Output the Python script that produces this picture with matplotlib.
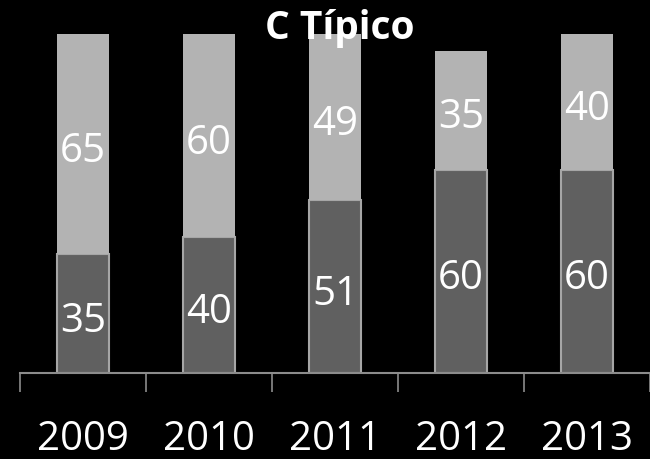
import matplotlib
matplotlib.use("Agg")
import matplotlib.pyplot as plt
import numpy as np

years = ["2009", "2010", "2011", "2012", "2013"]
lower = [35, 40, 51, 60, 60]
upper = [65, 60, 49, 35, 40]

W, H = 650, 460
fig = plt.figure(figsize=(W / 100, H / 100), dpi=100, facecolor="black")
ax = fig.add_axes([20 / W, (H - 374) / H, 630 / W, (374 - 35) / H])
ax.set_facecolor("black")

x = np.arange(len(years))
width = 0.41
dark = "#606060"
light = "#b3b3b3"
edge = "#a6a6a6"

ax.bar(x, lower, width, color=dark, edgecolor=edge, linewidth=1.5, zorder=2)
ax.bar(x, upper, width, bottom=lower, color=light, edgecolor=light, linewidth=0, zorder=2)

font = "Open Sans"
for xi, lo, up in zip(x, lower, upper):
    ax.text(xi, lo / 2 - 2, str(lo), ha="center", va="center", color="white",
            fontsize=29, family=font, zorder=3)
    ax.text(xi, lo + up / 2 - 2, str(up), ha="center", va="center", color="white",
            fontsize=29, family=font, zorder=3)

ax.set_xlim(-0.5, len(years) - 0.5)
ax.set_ylim(0, 100)
ax.set_yticks([])
ax.set_xticks(np.arange(len(years) + 1) - 0.5)
ax.set_xticklabels([])
ax.tick_params(axis="x", direction="out", length=14, width=1.2, color="#8c8c8c")
for s in ["top", "right", "left"]:
    ax.spines[s].set_visible(False)
ax.spines["bottom"].set_color("#8c8c8c")
ax.spines["bottom"].set_linewidth(1.5)

for xi, yr in zip(x, years):
    ax.text(xi, -19.5, yr, ha="center", va="center", color="white",
            fontsize=29, family=font, clip_on=False)

fig.text(340 / W, 1 - 29 / H, "C Típico", ha="center", va="center",
         color="white", fontsize=28, fontweight="bold", family=font, zorder=5)

fig.savefig("out.png", dpi=100, facecolor="black")
